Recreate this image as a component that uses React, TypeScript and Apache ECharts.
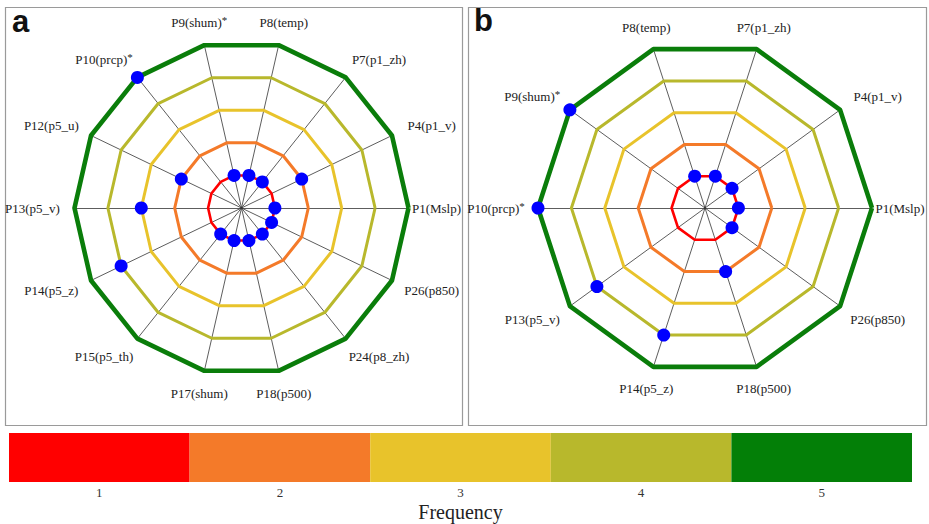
import React, { useEffect, useRef } from "react";
import * as echarts from "echarts";

const catA = ["P1(Mslp)", "P4(p1_v)", "P7(p1_zh)", "P8(temp)", "P9(shum)*", "P10(prcp)*", "P12(p5_u)", "P13(p5_v)", "P14(p5_z)", "P15(p5_th)", "P17(shum)", "P18(p500)", "P24(p8_zh)", "P26(p850)"];
const valA = [1, 2, 1, 1, 1, 5, 2, 3, 4, 1, 1, 1, 1, 1];
const catB = ["P1(Mslp)", "P4(p1_v)", "P7(p1_zh)", "P8(temp)", "P9(shum)*", "P10(prcp)*", "P13(p5_v)", "P14(p5_z)", "P18(p500)", "P26(p850)"];
const valB = [1, 1, 1, 1, 5, 5, 4, 4, 2, 1];
const levels = [1, 2, 3, 4, 5];
const levelTicks = ["1", "2", "3", "4", "5"];
const levelColors = ["#ff0000", "#f47a29", "#e8c32b", "#b8b82c", "#0a7d0a"];
const legendColors = ["#ff0000", "#f47a29", "#e8c32b", "#b8b82c", "#037f07"];
const levelWidths = [2.6, 3, 3, 3, 4.6];

const SERIF = "'Liberation Serif', 'Times New Roman', serif";
const R = 167;
const NAME_R = 190; // radius of label centres for near-vertical axes
const SIDE_PAD = 38; // extra push outward for side labels
const ZERO_PAD = 10; // label on the 0° axis

function radarCfg(cats: string[], cx: number) {
  const n = cats.length;
  const txt = { fontFamily: SERIF, fontSize: 13, color: "#222", lineHeight: 16 };
  const sup = { fontFamily: SERIF, fontSize: 11, color: "#222", verticalAlign: "top", lineHeight: 11 };
  return {
    center: [cx, 208],
    radius: R,
    startAngle: 0,
    shape: "polygon",
    splitNumber: 5,
    indicator: cats.map((c) => ({ name: c, min: 0, max: 5 })),
    splitLine: { show: false },
    splitArea: { show: false },
    axisTick: { show: false },
    axisLabel: { show: false },
    axisLine: { lineStyle: { color: "#333", width: 0.8 } },
    axisNameGap: NAME_R - R,
    axisName: {
      color: "#222",
      fontFamily: SERIF,
      fontSize: 13,
      align: "center",
      verticalAlign: "middle",
      formatter: (name: string) => {
        const i = cats.indexOf(name);
        const c = Math.cos((i * 2 * Math.PI) / n);
        const star = name.endsWith("*");
        const base = star ? name.slice(0, -1) : name;
        let pad = 0;
        if (i === 0) pad = ZERO_PAD;
        else if (Math.abs(c) > 0.5) pad = SIDE_PAD;
        if (pad === 0) return star ? `{n|${base}}{s|*}` : `{n|${base}}`;
        if (c > 0) return star ? `{nL${pad}|${base}}{s|*}` : `{nL${pad}|${base}}`;
        return star ? `{n|${base}}{sR${pad}|*}` : `{nR${pad}|${base}}`;
      },
      rich: {
        n: txt,
        s: sup,
        ["nL" + SIDE_PAD]: { ...txt, padding: [0, 0, 0, SIDE_PAD] },
        ["nR" + SIDE_PAD]: { ...txt, padding: [0, SIDE_PAD, 0, 0] },
        ["sR" + SIDE_PAD]: { ...sup, padding: [0, SIDE_PAD, 0, 0] },
        ["nL" + ZERO_PAD]: { ...txt, padding: [0, 0, 0, ZERO_PAD] },
      },
    },
  };
}

function levelSeries(radarIndex: number, n: number) {
  return levels.map((lv, i) => ({
    type: "radar",
    radarIndex,
    silent: true,
    symbol: "none",
    z: 2,
    lineStyle: { color: levelColors[i], width: levelWidths[i] },
    data: [{ value: new Array(n).fill(lv) }],
  }));
}

function dotSeries(radarIndex: number, vals: number[]) {
  return {
    type: "radar",
    radarIndex,
    z: 5,
    symbol: "circle",
    symbolSize: 13,
    itemStyle: { color: "#0000ff" },
    lineStyle: { opacity: 0, width: 0 },
    data: [{ value: vals }],
  };
}

export default function App() {
  const ref = useRef<HTMLDivElement>(null);
  useEffect(() => {
    if (!ref.current) return;
    const chart = echarts.init(ref.current, null, { renderer: "svg" });
    chart.setOption({
      animation: false,
      backgroundColor: "#ffffff",
      radar: [radarCfg(catA, 241.5), radarCfg(catB, 705)],
      grid: { left: 9, right: 17, top: 433, height: 49 },
      xAxis: {
        type: "category",
        data: levelTicks,
        axisLine: { show: false },
        axisTick: { show: false },
        axisLabel: { fontFamily: SERIF, fontSize: 13, color: "#333", margin: 4 },
        name: "Frequency",
        nameLocation: "middle",
        nameGap: 20,
        nameTextStyle: { fontFamily: SERIF, fontSize: 20, color: "#222" },
      },
      yAxis: { type: "value", min: 0, max: 1, show: false },
      graphic: [
        { type: "rect", shape: { x: 5.5, y: 7.5, width: 457, height: 418 }, style: { fill: "none", stroke: "#9a9a9a", lineWidth: 1.2 }, z: -1 },
        { type: "rect", shape: { x: 468.5, y: 7.5, width: 458, height: 418 }, style: { fill: "none", stroke: "#9a9a9a", lineWidth: 1.2 }, z: -1 },
        { type: "text", left: 12, top: 6, style: { text: "a", font: "bold 31px 'Liberation Sans', Arial, sans-serif", fill: "#111" } },
        { type: "text", left: 474, top: 5, style: { text: "b", font: "bold 31px 'Liberation Sans', Arial, sans-serif", fill: "#111" } },
      ],
      series: [
        ...levelSeries(0, catA.length),
        ...levelSeries(1, catB.length),
        dotSeries(0, valA),
        dotSeries(1, valB),
        {
          type: "bar",
          silent: true,
          barWidth: "100%",
          barCategoryGap: "0%",
          data: levels.map((lv, i) => ({ value: 1, name: String(lv), itemStyle: { color: legendColors[i] } })),
        },
      ],
    });
    return () => chart.dispose();
  }, []);
  return (
    <div
      ref={ref}
      style={{ position: "absolute", left: 0, top: 0, width: 929, height: 524, background: "#fff" }}
    />
  );
}
